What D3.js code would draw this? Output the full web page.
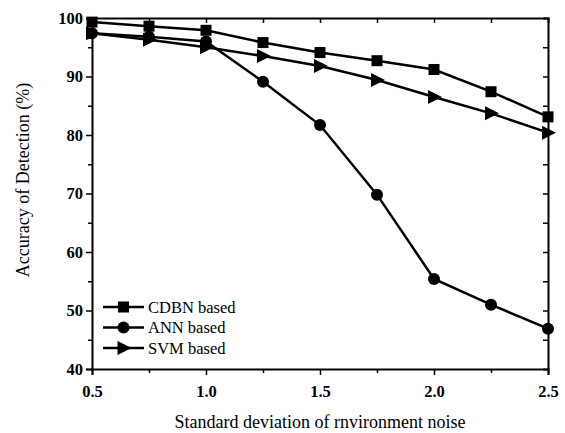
<!DOCTYPE html>
<html><head><meta charset="utf-8">
<script src="https://cdn.jsdelivr.net/npm/d3@7"></script>
<style>body{margin:0;background:#fff}svg{display:block}</style>
</head><body>
<svg id="c" width="565" height="433"></svg>
<script>
const xValues = [0.5, 0.75, 1.0, 1.25, 1.5, 1.75, 2.0, 2.25, 2.5];
const cdbn = [99.3, 98.6, 97.9, 95.8, 94.1, 92.7, 91.2, 87.4, 83.1];
const ann  = [97.4, 96.8, 96.0, 89.1, 81.7, 69.8, 55.4, 51.0, 46.9];
const svm  = [97.4, 96.3, 95.0, 93.5, 91.8, 89.4, 86.5, 83.7, 80.4];
const seriesNames = ["CDBN based", "ANN based", "SVM based"];
const xTicks = [0.5, 1.0, 1.5, 2.0, 2.5];
const yTicks = [40, 50, 60, 70, 80, 90, 100];

const svg = d3.select("#c");
const L = 92, R = 548, T = 18, B = 369;
const x = d3.scaleLinear().domain([0.5, 2.5]).range([L, R]);
const y = d3.scaleLinear().domain([40, 100]).range([B, T]);
const serif = "'Liberation Serif','Times New Roman',serif";

const minorX = d3.range(0.5, 2.51, 0.25);
const minorY = d3.range(40, 100.1, 5);

// bottom axis
svg.append("g").attr("transform", `translate(0,${B})`)
  .call(d3.axisBottom(x).tickValues(xTicks).tickFormat(d3.format(".1f")).tickSize(6).tickPadding(10));
svg.append("g").attr("transform", `translate(0,${B})`)
  .call(d3.axisBottom(x).tickValues(minorX.filter(v=>!xTicks.includes(v))).tickFormat("").tickSize(4))
  .select(".domain").remove();
// left axis
svg.append("g").attr("transform", `translate(${L},0)`)
  .call(d3.axisLeft(y).tickValues(yTicks).tickFormat(d3.format("d")).tickSize(6).tickPadding(3));
svg.append("g").attr("transform", `translate(${L},0)`)
  .call(d3.axisLeft(y).tickValues(minorY.filter(v=>!yTicks.includes(v))).tickFormat("").tickSize(4))
  .select(".domain").remove();
// top axis (inward)
svg.append("g").attr("transform", `translate(0,${T})`)
  .call(d3.axisBottom(x).tickValues(minorX.slice(1,-1)).tickFormat("").tickSizeOuter(0).tickSize(5));
// right axis (inward)
svg.append("g").attr("transform", `translate(${R},0)`)
  .call(d3.axisLeft(y).tickValues(minorY.slice(1,-1)).tickFormat("").tickSizeOuter(0).tickSize(5));

svg.selectAll(".domain").attr("stroke", "#000").attr("stroke-width", 2);
svg.selectAll(".tick line").attr("stroke", "#000").attr("stroke-width", 1.5);
svg.selectAll(".tick text").attr("font-family", serif).attr("font-size", 16.5)
  .attr("font-weight", "bold").attr("fill", "#000");

// titles
svg.append("text").attr("x", 320).attr("y", 428).attr("text-anchor", "middle")
  .attr("font-family", serif).attr("font-size", 18).text("Standard deviation of rnvironment noise");
svg.append("text").attr("transform", "translate(29,180) rotate(-90)").attr("text-anchor", "middle")
  .attr("font-family", serif).attr("font-size", 18).text("Accuracy of Detection (%)");

// markers
function marker(g, type, cx, cy) {
  if (type === 0) g.append("rect").attr("x", cx-5.5).attr("y", cy-5.5).attr("width", 11).attr("height", 11).attr("fill", "#000");
  else if (type === 1) g.append("circle").attr("cx", cx).attr("cy", cy).attr("r", 6).attr("fill", "#000");
  else g.append("path").attr("d", `M${cx-6},${cy-7}L${cx+8},${cy}L${cx-6},${cy+7}Z`).attr("fill", "#000");
}

const allSeries = [cdbn, ann, svm];
const line = d3.line().x((d,i)=>x(xValues[i])).y(d=>y(d));
allSeries.forEach((s, k) => {
  const g = svg.append("g");
  g.append("path").attr("d", line(s)).attr("fill", "none").attr("stroke", "#000").attr("stroke-width", 2.5);
  s.forEach((v, i) => marker(g, k, x(xValues[i]), y(v)));
});

// legend
seriesNames.forEach((n, k) => {
  const ly = 307 + k * 20.5;
  const g = svg.append("g");
  g.append("line").attr("x1", 103).attr("x2", 144).attr("y1", ly).attr("y2", ly).attr("stroke", "#000").attr("stroke-width", 2.5);
  marker(g, k, 123.5, ly);
  g.append("text").attr("x", 148).attr("y", ly + 5.5).attr("font-family", serif).attr("font-size", 16.5).text(n);
});
</script>
</body></html>
